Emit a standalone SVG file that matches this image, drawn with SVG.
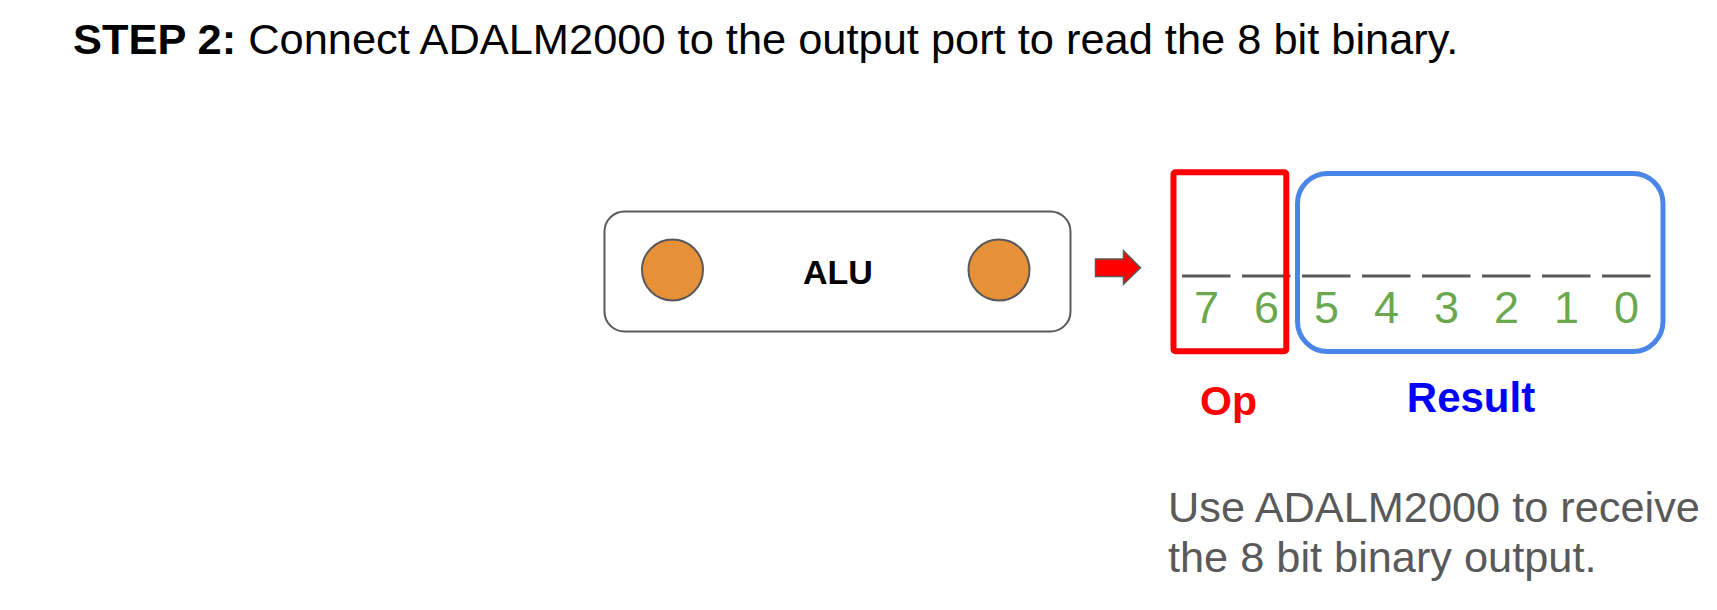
<svg xmlns="http://www.w3.org/2000/svg" width="1717" height="610" viewBox="0 0 1717 610">
<style>
text{font-family:"Liberation Sans",Arial,sans-serif}
.title{font-size:43.4px;fill:#000}
.digit{font-size:45px;fill:#6AA84F;text-anchor:middle}
.seg{stroke:#595959;stroke-width:3}
.port{fill:#E69138;stroke:#595959;stroke-width:2}
.note{font-size:43.3px;fill:#595959}
</style>
<rect width="1717" height="610" fill="#fff"/>
<text id="title" class="title" x="73" y="53.5"><tspan font-weight="bold">STEP 2:</tspan> Connect ADALM2000 to the output port to read the 8 bit binary.</text>
<g id="alu">
<rect x="604.5" y="211.5" width="466" height="120" rx="20" fill="#fff" stroke="#595959" stroke-width="2"/>
<circle class="port" cx="672.5" cy="270" r="30.5"/>
<circle class="port" cx="999" cy="270" r="30.5"/>
<text x="838" y="284" font-size="34" font-weight="bold" text-anchor="middle" fill="#000">ALU</text>
</g>
<g id="connectors">
<path d="M1095.5 259 H1123.5 V250.8 L1140.5 267.7 L1123.5 284.3 V276.5 H1095.5 Z" fill="#FF0000" stroke="#595959" stroke-width="1.5" stroke-linejoin="miter"/>
</g>
<g id="output-port">
<line class="seg" x1="1182" y1="276" x2="1230.5" y2="276"/>
<line class="seg" x1="1242" y1="276" x2="1290.5" y2="276"/>
<line class="seg" x1="1302" y1="276" x2="1350.5" y2="276"/>
<line class="seg" x1="1362" y1="276" x2="1410.5" y2="276"/>
<line class="seg" x1="1422" y1="276" x2="1470.5" y2="276"/>
<line class="seg" x1="1482" y1="276" x2="1530.5" y2="276"/>
<line class="seg" x1="1542" y1="276" x2="1590.5" y2="276"/>
<line class="seg" x1="1602" y1="276" x2="1650.5" y2="276"/>
<text class="digit" x="1206.5" y="322.5">7</text>
<text class="digit" x="1266.5" y="322.5">6</text>
<text class="digit" x="1326.5" y="322.5">5</text>
<text class="digit" x="1386.5" y="322.5">4</text>
<text class="digit" x="1446.5" y="322.5">3</text>
<text class="digit" x="1506.5" y="322.5">2</text>
<text class="digit" x="1566.5" y="322.5">1</text>
<text class="digit" x="1626.5" y="322.5">0</text>
</g>
<g id="op-box">
<rect x="1173.5" y="172.3" width="112.8" height="179" rx="2" fill="none" stroke="#FF0000" stroke-width="6"/>
<text x="1228.5" y="415" font-size="41" font-weight="bold" text-anchor="middle" fill="#FF0000">Op</text>
</g>
<g id="result-box">
<rect x="1297.5" y="173.5" width="365.5" height="178" rx="30" fill="none" stroke="#4A86E8" stroke-width="5"/>
<text x="1471" y="411.5" font-size="42" font-weight="bold" text-anchor="middle" fill="#0000FF">Result</text>
</g>
<g id="note">
<text class="note" x="1168" y="521.7">Use ADALM2000 to receive</text>
<text class="note" x="1168" y="571.7">the 8 bit binary output.</text>
</g>
</svg>
